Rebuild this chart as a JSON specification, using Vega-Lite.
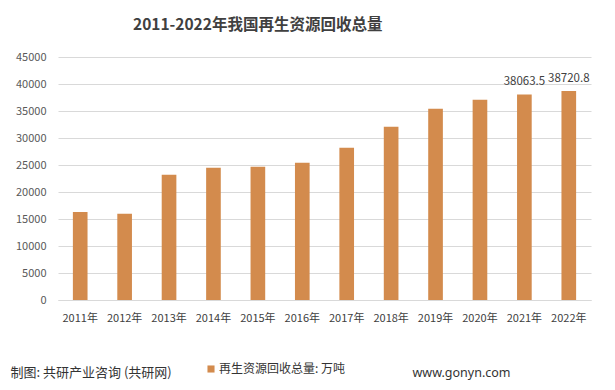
{
  "$schema": "https://vega.github.io/schema/vega-lite/v6.json",
  "width": 533,
  "height": 243,
  "autosize": {"type": "none"},
  "padding": {"left": 58, "top": 57, "right": 24, "bottom": 90},
  "background": "white",
  "config": {"font": "Noto Sans CJK SC", "view": {"stroke": null}},
  "title": {
    "text": "2011-2022年我国再生资源回收总量",
    "anchor": "start",
    "dx": 123,
    "offset": 18,
    "fontSize": 15.5,
    "fontWeight": "bold",
    "color": "#404040",
    "font": "Noto Sans CJK SC"
  },
  "data": {
    "values": [
      {"year": "2011年", "value": 16300, "show": false},
      {"year": "2012年", "value": 15950, "show": false},
      {"year": "2013年", "value": 23200, "show": false},
      {"year": "2014年", "value": 24470, "show": false},
      {"year": "2015年", "value": 24660, "show": false},
      {"year": "2016年", "value": 25400, "show": false},
      {"year": "2017年", "value": 28180, "show": false},
      {"year": "2018年", "value": 32070, "show": false},
      {"year": "2019年", "value": 35410, "show": false},
      {"year": "2020年", "value": 37080, "show": false},
      {"year": "2021年", "value": 38063.5, "show": true},
      {"year": "2022年", "value": 38720.8, "show": true}
    ]
  },
  "encoding": {
    "x": {
      "field": "year",
      "type": "ordinal",
      "scale": {"paddingInner": 0, "paddingOuter": 0},
      "axis": {
        "labelAngle": 0,
        "labelFontSize": 11,
        "labelColor": "#404040",
        "labelPadding": 12,
        "ticks": false,
        "domainColor": "#d9d9d9",
        "title": "制图: 共研产业咨询 (共研网)",
        "titleX": -48,
        "titleY": 72,
        "titleAlign": "left",
        "titleBaseline": "middle",
        "titleFontSize": 13,
        "titleFontWeight": "normal",
        "titleColor": "#333333"
      }
    },
    "y": {
      "field": "value",
      "type": "quantitative",
      "scale": {"domain": [0, 45000], "nice": false},
      "axis": {
        "values": [0, 5000, 10000, 15000, 20000, 25000, 30000, 35000, 40000, 45000],
        "labelOverlap": false,
        "format": "d",
        "gridColor": "#d9d9d9",
        "domain": false,
        "ticks": false,
        "labelPadding": 12,
        "labelFontSize": 11,
        "labelColor": "#595959",
        "title": "www.gonyn.com",
        "titleAngle": 0,
        "titleX": 354,
        "titleY": 315,
        "titleAlign": "left",
        "titleBaseline": "middle",
        "titleFontSize": 12.5,
        "titleFontWeight": "normal",
        "titleColor": "#333333",
        "titleFont": "Noto Sans"
      }
    }
  },
  "layer": [
    {
      "mark": {"type": "bar", "width": {"band": 0.33}},
      "encoding": {
        "color": {
          "datum": "再生资源回收总量: 万吨",
          "scale": {"range": ["#D38B4D"]},
          "legend": {
            "orient": "none",
            "legendX": 147,
            "legendY": 306,
            "title": null,
            "symbolType": "square",
            "symbolSize": 50,
            "labelFontSize": 12,
            "labelColor": "#333333",
            "labelOffset": 2
          }
        }
      }
    },
    {
      "transform": [{"filter": "datum.show"}],
      "mark": {"type": "text", "baseline": "bottom", "dy": -7, "fontSize": 11.5, "color": "#404040"},
      "encoding": {
        "text": {"field": "value", "type": "quantitative", "format": ".1f"}
      }
    }
  ]
}
